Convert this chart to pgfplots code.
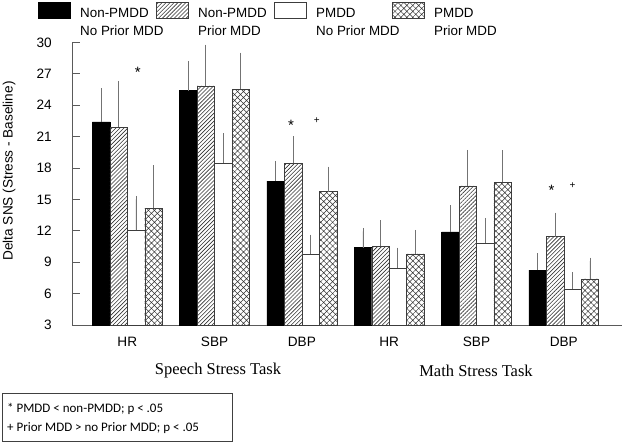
\documentclass[border=0pt]{standalone}
\usepackage{fontspec}
\setmainfont{Liberation Sans}
\newfontfamily\timesf{Liberation Serif}
\newfontfamily\calib{Carlito}
\usepackage{pgfplots}
\pgfplotsset{compat=1.18}
\usepackage{pgfplotstable}
\usetikzlibrary{patterns.meta}
\definecolor{axgray}{RGB}{90,90,90}
\definecolor{errgray}{RGB}{115,115,115}
\definecolor{bargray}{RGB}{60,60,60}

% x = task/measure index, y = mean delta, e = upper error
\pgfplotstableread{
x y e
0 22.4 2.9
1 25.4 2.5
2 16.75 1.6
3 10.4 1.55
4 11.9 2.2
5 8.25 1.25
}\nonNoPrior
\pgfplotstableread{
x y e
0 21.9 4.1
1 25.85 3.6
2 18.45 2.25
3 10.5 2.15
4 16.3 3.1
5 11.45 1.95
}\nonPrior
\pgfplotstableread{
x y e
0 12.05 2.95
1 18.5 2.5
2 9.8 1.5
3 8.45 1.6
4 10.85 2.05
5 6.45 1.25
}\pmddNoPrior
\pgfplotstableread{
x y e
0 14.15 3.8
1 25.5 3.2
2 15.75 2.05
3 9.8 1.95
4 16.65 2.7
5 7.4 1.7
}\pmddPrior

\tikzset{
  s1/.style={fill=black, draw=black},
  s2/.style={draw=bargray, pattern={Lines[angle=45,distance=2.8bp,line width=0.6bp]}, pattern color=black!80},
  s3/.style={fill=white, draw=bargray},
  s4/.style={draw=bargray, pattern={Hatch[angle=45,distance=4.2bp,line width=0.5bp]}, pattern color=black!80},
  legtxt/.style={anchor=base west, inner sep=0pt, font=\fontsize{13.4bp}{16bp}\selectfont},
}

\begin{document}
\begin{tikzpicture}
\useasboundingbox (0,0) rectangle (626bp,442bp);
\begin{axis}[
  at={(72bp,117bp)}, anchor=south west,
  scale only axis, width=550bp, height=282.6bp,
  xmin=-0.633, xmax=5.667, ymin=3, ymax=30,
  axis x line=bottom, axis y line=left,
  axis line style={-, axgray, line width=0.8bp},
  ytick={3,6,...,30}, xtick={0,...,5},
  xticklabels={HR,SBP,DBP,HR,SBP,DBP},
  x tick style={draw=none},
  y tick style={axgray, line width=0.8bp},
  tick align=inside, major tick length=8bp,
  tick label style={font=\fontsize{13.6bp}{16bp}\selectfont, text=black},
  /pgf/number format/assume math mode=true,
  yticklabel style={inner sep=0pt, xshift=-20bp},
  xticklabel style={inner sep=0pt, yshift=-4bp},
  ybar, bar width=17.46bp,
  clip=false,
  error bars/y dir=plus, error bars/y explicit,
  error bars/error bar style={errgray, line width=0.8bp},
  error bars/error mark options={errgray, mark size=3.5bp, line width=0.8bp},
]
\addplot[s1, bar shift=-26.19bp]
  table[x=x, y=y, y error plus=e] {\nonNoPrior};
\addplot[s2, bar shift=-8.73bp]
  table[x=x, y=y, y error plus=e] {\nonPrior};
\addplot[s3, bar shift=8.73bp]
  table[x=x, y=y, y error plus=e] {\pmddNoPrior};
\addplot[s4, bar shift=26.19bp]
  table[x=x, y=y, y error plus=e] {\pmddPrior};

\node[font=\fontsize{15bp}{15bp}\selectfont, yshift=-3.3bp] at (axis cs:0.12,27.5) {*};
\node[font=\fontsize{15bp}{15bp}\selectfont, yshift=-3.3bp] at (axis cs:1.875,22.4) {*};
\node[font=\fontsize{10bp}{10bp}\selectfont] at (axis cs:2.17,22.5) {+};
\node[font=\fontsize{15bp}{15bp}\selectfont, yshift=-3.3bp] at (axis cs:4.86,16.15) {*};
\node[font=\fontsize{10bp}{10bp}\selectfont] at (axis cs:5.10,16.3) {+};
\end{axis}

% legend
\draw[s1] (38bp,423.7bp) rectangle (70bp,439.3bp);
\node[legtxt] at (80bp,424.5bp) {Non-PMDD};
\node[legtxt] at (80bp,406bp) {No Prior MDD};
\draw[s2] (156bp,423.7bp) rectangle (188bp,439.3bp);
\node[legtxt] at (198bp,424.5bp) {Non-PMDD};
\node[legtxt] at (198bp,406bp) {Prior MDD};
\draw[s3] (274bp,423.7bp) rectangle (306bp,439.3bp);
\node[legtxt] at (316bp,424.5bp) {PMDD};
\node[legtxt] at (316bp,406bp) {No Prior MDD};
\draw[s4] (392bp,423.7bp) rectangle (424bp,439.3bp);
\node[legtxt] at (434bp,424.5bp) {PMDD};
\node[legtxt] at (434bp,406bp) {Prior MDD};

\node[rotate=90, font=\fontsize{13.6bp}{16bp}\selectfont, inner sep=0pt] at (9bp,271bp) {Delta SNS (Stress - Baseline)};
\node[font=\timesf\fontsize{16.5bp}{18bp}\selectfont, inner sep=0pt] at (218bp,71bp) {Speech Stress Task};
\node[font=\timesf\fontsize{16.5bp}{18bp}\selectfont, inner sep=0pt] at (476bp,71bp) {Math Stress Task};

\draw[black!75, line width=0.8bp] (2bp,1bp) rectangle (232bp,49bp);
\node[anchor=base west, inner sep=0pt, font=\calib\fontsize{13bp}{15bp}\selectfont] at (7bp,29.5bp) {* PMDD < non-PMDD; p < .05};
\node[anchor=base west, inner sep=0pt, font=\calib\fontsize{13bp}{15bp}\selectfont] at (7bp,10.5bp) {+ Prior MDD > no Prior MDD; p < .05};
\end{tikzpicture}
\end{document}
